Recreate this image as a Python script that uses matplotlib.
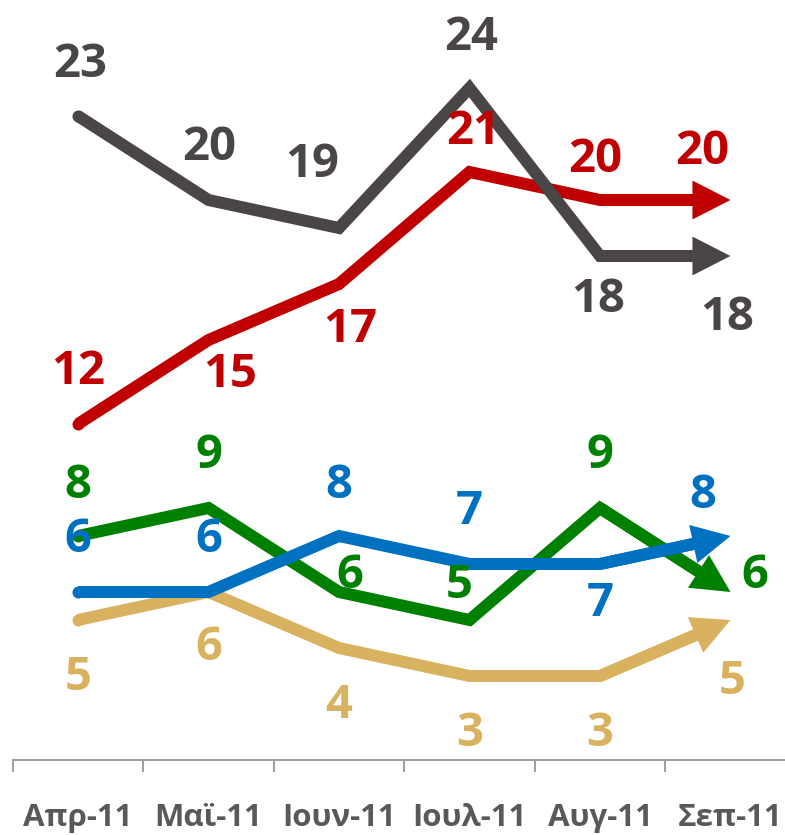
import matplotlib
matplotlib.use("Agg")
import matplotlib.pyplot as plt
from matplotlib.patches import FancyArrowPatch, ArrowStyle
import numpy as np

plt.rcParams['font.family'] = ['Open Sans', 'DejaVu Sans']

# ---- data ----
months = ["Απρ-11", "Μαϊ-11", "Ιουν-11", "Ιουλ-11", "Αυγ-11", "Σεπ-11"]
gray_vals = [23, 20, 19, 24, 18, 18]
red_vals = [12, 15, 17, 21, 20, 20]
green_vals = [8, 9, 6, 5, 9, 6]
blue_vals = [6, 6, 8, 7, 7, 8]
tan_vals = [5, 6, 4, 3, 3, 5]

# ---- style / layout ----
colors = {
    "gray": "#4B4646",
    "red": "#C00000",
    "green": "#008000",
    "blue": "#0070C0",
    "tan": "#D9B260",
}
# label offsets in pixels (dx right, dy down) relative to the data point
offsets = {
    "gray": [(2, -51), (1, -52), (-27, -63), (2, -50), (-2, 44), (-3, 62)],
    "red": [(0, -52), (22, 35), (11, 46), (4, -40), (-5, -40), (-28, -48)],
    "green": [(0, -51), (0, -53), (11, -17), (-10, -35), (0, -53), (24, -17)],
    "blue": [(0, -52), (0, -52), (0, -51), (0, -52), (0, 39), (-28, -41)],
    "tan": [(0, 58), (0, 56), (0, 57), (0, 57), (0, 57), (2, 62)],
}
series = [("tan", tan_vals), ("green", green_vals), ("blue", blue_vals),
          ("red", red_vals), ("gray", gray_vals)]

W, H, DPI = 785, 835, 100
fig = plt.figure(figsize=(W / DPI, H / DPI), dpi=DPI)
fig.patch.set_facecolor("white")

px_per_cat = 130.5
x0_px = 78 - px_per_cat / 2
axis_y_px = 760
px_per_unit = 28.0
ax = fig.add_axes([x0_px / W, (H - axis_y_px) / H, 6 * px_per_cat / W, axis_y_px / H])
ax.set_xlim(-0.5, 5.5)
ax.set_ylim(0, axis_y_px / px_per_unit)
ax.patch.set_alpha(0)

for s in ["top", "left", "right"]:
    ax.spines[s].set_visible(False)
ax.spines["bottom"].set_color("#A0A0A0")
ax.spines["bottom"].set_linewidth(1.5)
ax.set_yticks([])
x = np.arange(len(months))
ax.set_xticks(x)
ax.set_xticklabels(months, fontsize=22.5, fontweight="bold", color="#595959")
ax.tick_params(axis="x", which="major", length=0, pad=31)
ax.set_xticks(np.arange(-0.5, 6.0, 1.0), minor=True)
ax.tick_params(axis="x", which="minor", length=8.6, width=1.5, color="#A0A0A0", direction="out")

lw_pt = 8.64
head_len_pt = 27.4
head_w_pt = 28.0
pt2px = DPI / 72.0

for z, (name, vals) in enumerate(series):
    c = colors[name]
    vals = np.array(vals, dtype=float)
    # shorten the line so it ends inside the arrow head
    p4 = ax.transData.transform((x[-2], vals[-2]))
    p5 = ax.transData.transform((x[-1], vals[-1]))
    d = p5 - p4
    u = d / np.hypot(*d)
    pend = p5 - u * head_len_pt * pt2px * 0.75
    end_data = ax.transData.inverted().transform(pend)
    xs = list(x[:-1]) + [end_data[0]]
    ys = list(vals[:-1]) + [end_data[1]]
    ax.plot(xs, ys, color=c, lw=lw_pt, solid_joinstyle="miter",
            solid_capstyle="butt", zorder=2 + z)
    ax.plot([x[0]], [vals[0]], "o", color=c, ms=lw_pt, mew=0, zorder=2 + z)
    arr = FancyArrowPatch((x[-2], vals[-2]), (x[-1], vals[-1]),
                          arrowstyle=ArrowStyle.Simple(head_length=head_len_pt,
                                                       head_width=head_w_pt,
                                                       tail_width=lw_pt),
                          mutation_scale=1, shrinkA=0, shrinkB=0,
                          facecolor=c, edgecolor="none", lw=0, zorder=2 + z)
    ax.add_patch(arr)
    for i, v in enumerate(vals):
        dx, dy = offsets[name][i]
        ax.annotate(f"{int(v)}", (x[i], v), xytext=(dx / pt2px, -dy / pt2px),
                    textcoords="offset points", ha="center", va="center",
                    fontsize=34, fontweight="bold", color=c, zorder=10,
                    annotation_clip=False)

fig.savefig("out.png", dpi=DPI, facecolor="white")
